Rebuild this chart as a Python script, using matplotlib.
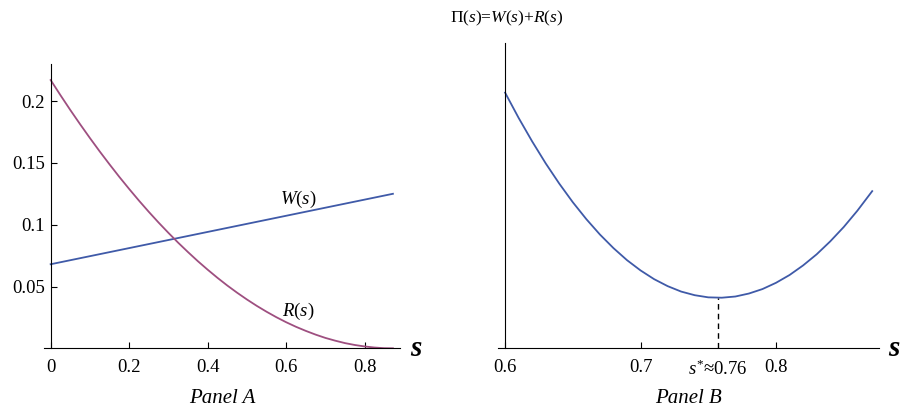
import matplotlib
matplotlib.use("Agg")
import matplotlib.pyplot as plt

plt.rcParams['font.family'] = ['Liberation Serif', 'DejaVu Serif']
plt.rcParams['mathtext.fontset'] = 'custom'
plt.rcParams['mathtext.rm'] = 'Liberation Serif'
plt.rcParams['mathtext.it'] = 'Liberation Serif:italic'

# Panel A: W(s) (straight line) and R(s)
w_s = [0.0, 0.872]
w_val = [0.068, 0.125]

r_s = [0.0, 0.025, 0.05, 0.075, 0.1, 0.125, 0.15, 0.175, 0.2, 0.225, 0.25,
       0.275, 0.3, 0.325, 0.35, 0.375, 0.4, 0.425, 0.45, 0.475, 0.5, 0.525,
       0.55, 0.575, 0.6, 0.625, 0.65, 0.675, 0.7, 0.725, 0.75, 0.775, 0.8,
       0.825, 0.85, 0.872]
r_val = [0.217, 0.20474, 0.1928, 0.18128, 0.1701, 0.15925, 0.1488, 0.13864,
         0.1289, 0.11946, 0.1104, 0.10171, 0.0934, 0.08539, 0.0778, 0.07049,
         0.0636, 0.05702, 0.0508, 0.04498, 0.0395, 0.03436, 0.0296, 0.02517,
         0.0211, 0.01741, 0.0141, 0.01108, 0.0084, 0.00617, 0.0042, 0.00268,
         0.0015, 0.00063, 0.0001, 0.0]

a_xticks = [0, 0.2, 0.4, 0.6, 0.8]
a_xlabels = ['0', '0.2', '0.4', '0.6', '0.8']
a_yticks = [0.05, 0.1, 0.15, 0.2]
a_ylabels = ['0.05', '0.1', '0.15', '0.2']

# Panel B: Pi(s) = W(s) + R(s)
pi_s = [0.60, 0.61, 0.62, 0.63, 0.64, 0.65, 0.66, 0.67, 0.68, 0.69, 0.70,
        0.71, 0.72, 0.73, 0.74, 0.75, 0.76, 0.77, 0.78, 0.79, 0.80, 0.81,
        0.82, 0.83, 0.84, 0.85, 0.86, 0.871]
pi_val = [0.128336, 0.127464, 0.126652, 0.125894, 0.125197, 0.124554,
          0.123970, 0.123441, 0.122972, 0.122556, 0.122202, 0.121901,
          0.121660, 0.121472, 0.121347, 0.121273, 0.121261, 0.121302,
          0.121405, 0.121559, 0.121775, 0.122044, 0.122375, 0.122758,
          0.123203, 0.123700, 0.124259, 0.124937]
s_star = 0.757
b_xticks = [0.6, 0.7, s_star, 0.8]
b_xlabels = ['0.6', '0.7', r'$s^{*}$≈0.76', '0.8']

blue = '#3f5aa8'
purple = '#9e4f80'

fig = plt.figure(figsize=(9.07, 4.15), dpi=100)

# ---- Panel A ----
ax = fig.add_axes([0.0485, 0.1607, 0.3925, 0.6851])
ax.plot(w_s, w_val, color=blue, lw=1.3)
ax.plot(r_s, r_val, color=purple, lw=1.3)
ax.set_xlim(-0.017, 0.89)
ax.set_ylim(0, 0.23)
ax.spines['left'].set_position(('data', 0))
ax.spines['top'].set_visible(False)
ax.spines['right'].set_visible(False)
ax.set_xticks(a_xticks)
ax.set_xticklabels(a_xlabels)
ax.set_yticks(a_yticks)
ax.set_yticklabels(a_ylabels)
ax.tick_params(direction='in', length=4, width=0.8, labelsize=13.5)
ax.tick_params(axis='x', pad=8)
ax.tick_params(axis='y', pad=4)
ax.text(0.63, 0.1207, r'$W(s)$', fontsize=13.5, ha='center', va='center')
ax.text(0.63, 0.0296, r'$R(s)$', fontsize=13.5, ha='center', va='center')
ax.text(0.915, 0.0, 's', fontsize=21, ha='left', va='center',
        fontstyle='italic', fontweight='bold')
ax.text(0.5, -0.175, 'Panel A', transform=ax.transAxes, fontsize=15,
        fontstyle='italic', ha='center', va='center')

# ---- Panel B ----
bx = fig.add_axes([0.5494, 0.1607, 0.4197, 0.735])
bx.plot(pi_s, pi_val, color=blue, lw=1.3)
bx.set_xlim(0.595, 0.876)
bx.set_ylim(0.119515, 0.130038)
bx.vlines(s_star, 0.119515, min(pi_val), colors='black', linestyles=(0, (4, 3)),
          lw=1.0)
bx.spines['left'].set_position(('data', 0.6))
bx.spines['top'].set_visible(False)
bx.spines['right'].set_visible(False)
bx.set_yticks([])
bx.set_xticks(b_xticks)
bx.set_xticklabels(b_xlabels)
bx.tick_params(axis='x', direction='in', length=4, width=0.8, labelsize=13.5, pad=8)
bx.xaxis.get_major_ticks()[2].tick1line.set_visible(False)
bx.text(0.8825, 0.119515, 's', fontsize=21, ha='left', va='center',
        fontstyle='italic', fontweight='bold')
fig.text(0.559, 0.955, r'$\Pi(s)$=$W(s)$+$R(s)$', fontsize=12.5, ha='center',
         va='center')
bx.text(0.5, -0.165, 'Panel B', transform=bx.transAxes, fontsize=15,
        fontstyle='italic', ha='center', va='center')

fig.savefig('out.png', dpi=100)
